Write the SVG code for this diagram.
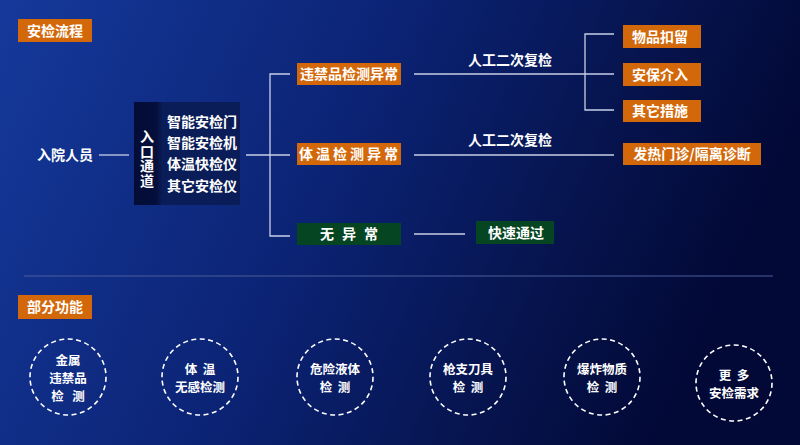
<svg xmlns="http://www.w3.org/2000/svg" width="800" height="445" viewBox="0 0 800 445">
<defs>
<linearGradient id="bg" x1="0" y1="0" x2="1" y2="0.25">
<stop offset="0" stop-color="#15399b"/>
<stop offset="0.5" stop-color="#0b2272"/>
<stop offset="0.8" stop-color="#06134c"/>
<stop offset="1" stop-color="#020937"/>
</linearGradient>
<linearGradient id="strip" x1="0" y1="0" x2="1" y2="0">
<stop offset="0" stop-color="#040c36"/>
<stop offset="0.8" stop-color="#050f3c"/>
<stop offset="1" stop-color="#0a1b55"/>
</linearGradient>
<style>
.t{font-family:"Noto Sans CJK SC","Noto Sans",sans-serif;fill:#fff;font-size:14px;font-weight:bold;}
.c{font-size:12.5px;}
.m{text-anchor:middle;}
.or{fill:#d3680a;}
.gr{fill:#064522;}
.ln{stroke:#c8cfe6;stroke-width:1.3;fill:none;}
.ci{stroke:#ffffff;stroke-width:1.6;fill:none;stroke-dasharray:5 3.5;}
</style>
</defs>
<rect width="800" height="445" fill="url(#bg)"/>
<line x1="24" y1="276" x2="773" y2="276" stroke="#4a5f9a" stroke-width="1"/>

<g id="title1"><rect class="or" x="18" y="19" width="74" height="23"/><text class="t m" x="55" y="35.5">安检流程</text></g>
<g id="title2"><rect class="or" x="18" y="295" width="74" height="24"/><text class="t m" x="55" y="312">部分功能</text></g>

<g id="connectors">
<line class="ln" x1="99" y1="155" x2="129" y2="155"/>
<line class="ln" x1="246" y1="155" x2="290" y2="155"/>
<polyline class="ln" points="290,74 270,74 270,236 290,236"/>
<line class="ln" x1="414" y1="74" x2="614" y2="74"/>
<line class="ln" x1="414" y1="155" x2="614" y2="155"/>
<line class="ln" x1="414" y1="234" x2="465" y2="234"/>
<polyline class="ln" points="614,34 585,34 585,110 614,110"/>
</g>

<g id="n-person"><text class="t m" x="65" y="160">入院人员</text></g>

<g id="n-entry">
<rect x="134" y="102" width="106" height="103" fill="#0b1d58"/>
<rect x="134" y="102" width="28" height="103" fill="url(#strip)"/>
<text class="t" x="147" y="130" font-size="13" letter-spacing="0.5" writing-mode="vertical-rl">入口通道</text>
<text class="t" x="167" y="127">智能安检门</text>
<text class="t" x="167" y="148">智能安检机</text>
<text class="t" x="167" y="169">体温快检仪</text>
<text class="t" x="167" y="191">其它安检仪</text>
</g>

<g id="n-contraband"><rect class="or" x="297" y="63" width="104" height="22"/><text class="t m" x="349" y="79" font-size="13.5">违禁品检测异常</text></g>
<g id="n-temp"><rect class="or" x="297" y="143" width="104" height="22"/><text class="t m" x="350" y="159" letter-spacing="3">体温检测异常</text></g>
<g id="n-normal"><rect class="gr" x="297" y="223" width="104" height="22"/><text class="t m" x="353" y="239" letter-spacing="8">无异常</text></g>

<g id="lbl1"><text class="t m" x="510" y="65" font-weight="normal">人工二次复检</text></g>
<g id="lbl2"><text class="t m" x="510" y="145" font-weight="normal">人工二次复检</text></g>

<g id="n-hold"><rect class="or" x="623" y="25" width="78" height="23"/><text class="t m" x="660" y="41.5">物品扣留</text></g>
<g id="n-security"><rect class="or" x="623" y="63" width="78" height="23"/><text class="t m" x="660" y="79.5">安保介入</text></g>
<g id="n-other"><rect class="or" x="623" y="100" width="78" height="22"/><text class="t m" x="660" y="116">其它措施</text></g>
<g id="n-fever"><rect class="or" x="623" y="143" width="138" height="22"/><text class="t m" x="692" y="159">发热门诊/隔离诊断</text></g>
<g id="n-pass"><rect class="gr" x="476" y="221" width="78" height="23"/><text class="t m" x="516" y="237.5">快速通过</text></g>

<g id="f1"><circle class="ci" cx="68" cy="377" r="38"/><text class="t c m" xml:space="preserve"><tspan x="68" y="364.5">金属</tspan><tspan x="68" y="382.7">违禁品</tspan><tspan x="68" y="400.9">检   测</tspan></text></g>
<g id="f2"><circle class="ci" cx="200" cy="377" r="38"/><text class="t c m" xml:space="preserve"><tspan x="200" y="374">体  温</tspan><tspan x="200" y="392.2">无感检测</tspan></text></g>
<g id="f3"><circle class="ci" cx="335" cy="377" r="38"/><text class="t c m" xml:space="preserve"><tspan x="335" y="374">危险液体</tspan><tspan x="335" y="392.2">检  测</tspan></text></g>
<g id="f4"><circle class="ci" cx="468" cy="377" r="38"/><text class="t c m" xml:space="preserve"><tspan x="468" y="374">枪支刀具</tspan><tspan x="468" y="392.2">检  测</tspan></text></g>
<g id="f5"><circle class="ci" cx="602" cy="377" r="38"/><text class="t c m" xml:space="preserve"><tspan x="602" y="374">爆炸物质</tspan><tspan x="602" y="392.2">检  测</tspan></text></g>
<g id="f6"><circle class="ci" cx="734" cy="383" r="38"/><text class="t c m" xml:space="preserve"><tspan x="734" y="380">更  多</tspan><tspan x="734" y="398.2">安检需求</tspan></text></g>
</svg>
